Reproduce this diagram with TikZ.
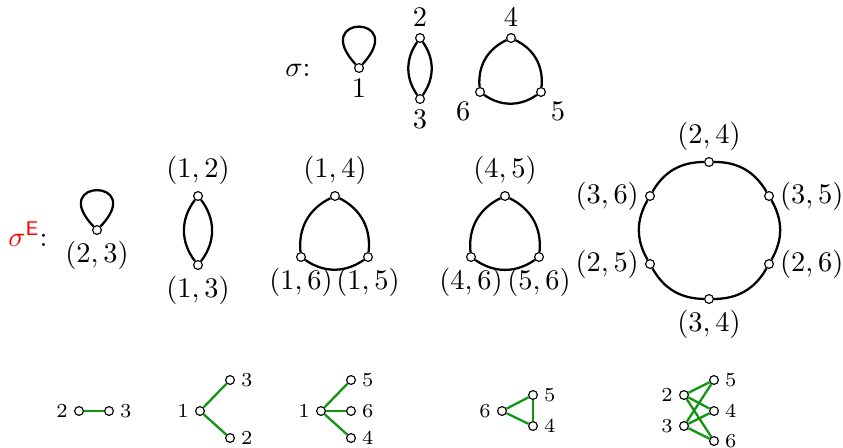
\documentclass[tikz,border=0pt]{standalone}
\usepackage{amsmath}
\usetikzlibrary{positioning}

\definecolor{edgegreen}{RGB}{16,150,16}

\begin{document}
\begin{tikzpicture}[
  x=0.3521pt, y=-0.3521pt,
  vtx/.style={circle, draw, fill=white, inner sep=0pt, minimum size=3.1pt},
  edge/.style={thick},
  gedge/.style={thick, draw=edgegreen},
  every label/.style={inner sep=2pt},
  label distance=0pt
]
  \useasboundingbox (0,0) rectangle (843,448);

  % sigma
  \node (sig) at (298,70) {$\sigma$:};
  \node[vtx, label=below:$1$] (l1) at (359,68) {};
  \node[vtx, label=above:$2$] (t2) at (420,38) {};
  \node[vtx, label=below:$3$] (t3) at (420,99) {};
  \node[vtx, label=above:$4$] (t4) at (511,38) {};
  \node[vtx, label=below left:$6$] (t6) at (480,92) {};
  \node[vtx, label=below right:$5$] (t5) at (541,92) {};

  \draw[edge] (l1) .. controls +(-50,-54) and +(50,-54) .. (l1);
  \draw[edge] (t2) to[bend right=35] (t3);
  \draw[edge] (t2) to[bend left=35] (t3);
  \draw[edge] (t4) to[bend right=35] (t6);
  \draw[edge] (t6) to[bend right=35] (t5);
  \draw[edge] (t5) to[bend right=35] (t4);

  % sigma^E
  \node (sigE) at (28,234) {$\textcolor{red}{\sigma^{\mathsf{E}}}$:};
  \node[vtx, label=below:{$(2,3)$}] (m1) at (97,230) {};
  \node[vtx, label=above:{$(1,2)$}] (d12) at (198,196) {};
  \node[vtx, label=below:{$(1,3)$}] (d13) at (198,265) {};
  \node[vtx, label=above:{$(1,4)$}] (a14) at (335,196) {};
  \node[vtx, label=below:{$(1,6)$}] (a16) at (301,257) {};
  \node[vtx, label=below:{$(1,5)$}] (a15) at (368,257) {};
  \node[vtx, label=above:{$(4,5)$}] (b45) at (505,196) {};
  \node[vtx, label=below:{$(4,6)$}] (b46) at (471,257) {};
  \node[vtx, label=below:{$(5,6)$}] (b56) at (539,257) {};
  \node[vtx, label=above:{$(2,4)$}] (h24) at (709,162) {};
  \node[vtx, label=left:{$(3,6)$}] (h36) at (650,196) {};
  \node[vtx, label=left:{$(2,5)$}] (h25) at (650,264) {};
  \node[vtx, label=below:{$(3,4)$}] (h34) at (709,299) {};
  \node[vtx, label=right:{$(2,6)$}] (h26) at (769,264) {};
  \node[vtx, label=right:{$(3,5)$}] (h35) at (769,196) {};

  \draw[edge] (m1) .. controls +(-50,-52) and +(50,-52) .. (m1);
  \draw[edge] (d12) to[bend right=38] (d13);
  \draw[edge] (d12) to[bend left=38] (d13);
  \draw[edge] (a14) to[bend right=35] (a16);
  \draw[edge] (a16) to[bend right=35] (a15);
  \draw[edge] (a15) to[bend right=35] (a14);
  \draw[edge] (b45) to[bend right=35] (b46);
  \draw[edge] (b46) to[bend right=35] (b56);
  \draw[edge] (b56) to[bend right=35] (b45);
  \draw[edge] (h24) to[bend right=30] (h36);
  \draw[edge] (h36) to[bend right=30] (h25);
  \draw[edge] (h25) to[bend right=30] (h34);
  \draw[edge] (h34) to[bend right=30] (h26);
  \draw[edge] (h26) to[bend right=30] (h35);
  \draw[edge] (h35) to[bend right=30] (h24);

  % line graphs
  \begin{scope}[every label/.style={inner sep=2pt, font=\scriptsize}]
    \node[vtx, label=left:$2$] (g2) at (79,411) {};
    \node[vtx, label=right:$3$] (g3) at (109,411) {};
    \node[vtx, label=left:$1$] (s1) at (200,411) {};
    \node[vtx, label=right:$3$] (s3) at (230,380) {};
    \node[vtx, label=right:$2$] (s2) at (230,438) {};
    \node[vtx, label=left:$1$] (r1) at (321,411) {};
    \node[vtx, label=right:$5$] (r5) at (351,380) {};
    \node[vtx, label=right:$6$] (r6) at (351,411) {};
    \node[vtx, label=right:$4$] (r4) at (351,438) {};
    \node[vtx, label=left:$6$] (c6) at (502,411) {};
    \node[vtx, label=right:$5$] (c5) at (533,395) {};
    \node[vtx, label=right:$4$] (c4) at (533,426) {};
    \node[vtx, label=left:$2$] (k2) at (684,395) {};
    \node[vtx, label=left:$3$] (k3) at (684,426) {};
    \node[vtx, label=right:$5$] (k5) at (714,380) {};
    \node[vtx, label=right:$4$] (k4) at (714,411) {};
    \node[vtx, label=right:$6$] (k6) at (714,441) {};
  \end{scope}

  \draw[gedge] (g2) -- (g3);
  \draw[gedge] (s1) -- (s3);
  \draw[gedge] (s1) -- (s2);
  \draw[gedge] (r1) -- (r5);
  \draw[gedge] (r1) -- (r6);
  \draw[gedge] (r1) -- (r4);
  \draw[gedge] (c6) -- (c5);
  \draw[gedge] (c5) -- (c4);
  \draw[gedge] (c4) -- (c6);
  \draw[gedge] (k2) -- (k5);
  \draw[gedge] (k2) -- (k4);
  \draw[gedge] (k2) -- (k6);
  \draw[gedge] (k3) -- (k5);
  \draw[gedge] (k3) -- (k4);
  \draw[gedge] (k3) -- (k6);
\end{tikzpicture}
\end{document}
